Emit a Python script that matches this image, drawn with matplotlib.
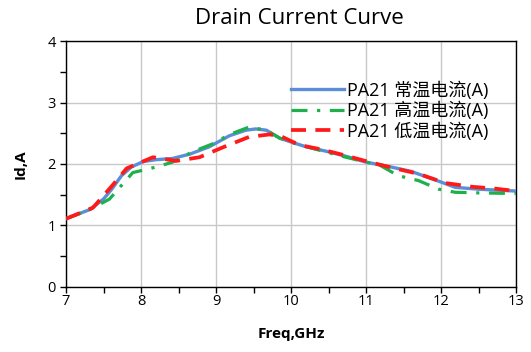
import matplotlib
matplotlib.use("Agg")
import matplotlib.pyplot as plt
from matplotlib.ticker import MultipleLocator

plt.rcParams['font.family'] = ['Open Sans', 'Noto Sans CJK SC', 'DejaVu Sans']

title = "Drain Current Curve"
xlabel = "Freq,GHz"
ylabel = "Id,A"
labels = ["PA21 常温电流(A)", "PA21 高温电流(A)", "PA21 低温电流(A)"]

x_room = [7.0, 7.32, 7.5, 7.61, 7.74, 7.87, 8.03, 8.2, 8.42, 8.65, 8.91, 9.18, 9.4, 9.53, 9.67,
          9.85, 10.02, 10.2, 10.46, 10.72, 11.0, 11.3, 11.6, 11.97, 12.19, 12.5, 13.0]
y_room = [1.11, 1.26, 1.43, 1.59, 1.81, 1.95, 2.04, 2.07, 2.09, 2.16, 2.28, 2.46, 2.55, 2.57, 2.55,
          2.42, 2.35, 2.28, 2.21, 2.13, 2.03, 1.96, 1.88, 1.72, 1.62, 1.59, 1.56]

x_high = [7.0, 7.32, 7.58, 7.89, 8.2, 8.42, 8.69, 8.96, 9.18, 9.44, 9.67, 9.85, 10.06, 10.3,
          10.7, 11.0, 11.17, 11.43, 11.7, 11.97, 12.19, 12.5, 13.0]
y_high = [1.11, 1.26, 1.43, 1.86, 1.95, 2.03, 2.2, 2.33, 2.48, 2.6, 2.55, 2.42, 2.33, 2.25,
          2.12, 2.03, 1.99, 1.81, 1.73, 1.59, 1.54, 1.53, 1.52]

x_low = [7.0, 7.36, 7.61, 7.81, 8.16, 8.47, 8.78, 9.09, 9.44, 9.71, 9.85, 10.11, 10.43, 10.72,
         11.08, 11.38, 11.7, 12.06, 12.41, 12.72, 13.0]
y_low = [1.11, 1.29, 1.64, 1.93, 2.11, 2.05, 2.11, 2.27, 2.44, 2.48, 2.46, 2.31, 2.23, 2.14,
         2.02, 1.93, 1.84, 1.69, 1.63, 1.6, 1.56]

fig = plt.figure(figsize=(5.31, 3.52), dpi=100)
ax = fig.add_axes([0.1243, 0.1847, 0.8475, 0.6988])

ax.plot(x_room, y_room, color='#5B8ED6', lw=2.4, label=labels[0], zorder=3)
ax.plot(x_high, y_high, color='#1DB04B', lw=2.3, linestyle=(0, (5, 3, 1, 3)), label=labels[1], zorder=4)
ax.plot(x_low, y_low, color='#FF1A1A', lw=2.7, linestyle=(0, (4, 2.5)), label=labels[2], zorder=5)

ax.set_xlim(7, 13)
ax.set_ylim(0, 4)
ax.xaxis.set_major_locator(MultipleLocator(1))
ax.xaxis.set_minor_locator(MultipleLocator(0.5))
ax.yaxis.set_major_locator(MultipleLocator(1))
ax.yaxis.set_minor_locator(MultipleLocator(0.5))
ax.grid(True, which='major', color='#C8C8C8', lw=1.0, zorder=0)
ax.set_axisbelow(True)
ax.tick_params(which='both', direction='out', length=4, width=1, colors='black', labelsize=10.5)
ax.tick_params(axis='x', pad=1)
for s in ax.spines.values():
    s.set_color('black')
    s.set_linewidth(1.0)

ax.set_xlabel(xlabel, fontsize=11, fontweight='bold', labelpad=13)
ax.set_ylabel(ylabel, fontsize=11, fontweight='bold', labelpad=14)
fig.text(0.563, 0.948, title, ha='center', va='center', fontsize=16)

ax.legend(loc='upper left', bbox_to_anchor=(0.485, 0.865), frameon=False,
          handlelength=2.9, handletextpad=0.15, labelspacing=0.12, borderaxespad=0,
          prop={'family': ['Open Sans', 'Noto Sans CJK SC'], 'size': 13})

fig.savefig('out.png', dpi=100)
